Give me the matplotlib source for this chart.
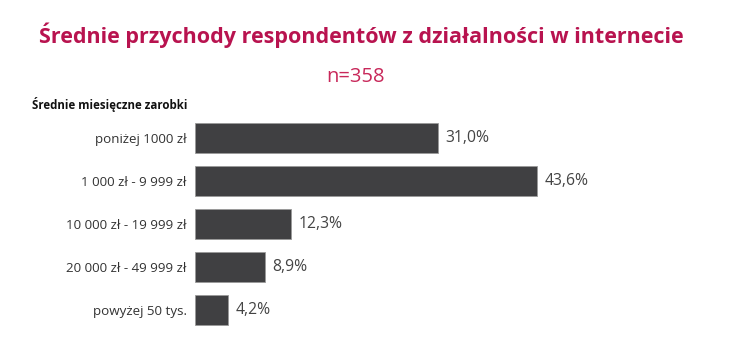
import matplotlib
matplotlib.use("Agg")
import matplotlib.pyplot as plt

categories = ["poniżej 1000 zł", "1 000 zł - 9 999 zł", "10 000 zł - 19 999 zł",
              "20 000 zł - 49 999 zł", "powyżej 50 tys."]
values = [31.0, 43.6, 12.3, 8.9, 4.2]
value_labels = ["31,0%", "43,6%", "12,3%", "8,9%", "4,2%"]

title = "Średnie przychody respondentów z działalności w internecie"
subtitle = "n=358"
axis_title = "Średnie miesięczne zarobki"

FONT = "Open Sans"
W, H = 735, 343
fig = plt.figure(figsize=(W / 100, H / 100), dpi=100)
fig.patch.set_facecolor("white")

left_px, right_px = 195, 665
top_px, bot_px = 112.2, 335.8
ax = fig.add_axes([left_px / W, 1 - bot_px / H, (right_px - left_px) / W, (bot_px - top_px) / H])

ypos = list(range(len(categories)))
ax.barh(ypos, values, height=0.7, color="#404042", edgecolor="#9a9a9a", linewidth=0.6)
ax.set_xlim(0, 60)
ax.set_ylim(4.6, -0.6)
ax.set_yticks(ypos)
ax.set_yticklabels(categories, fontsize=9.6, color="#333333", family=FONT)
ax.tick_params(axis="y", length=0, pad=6)
ax.set_xticks([])
for s in ax.spines.values():
    s.set_visible(False)

for y, v, lab in zip(ypos, values, value_labels):
    ax.annotate(lab, xy=(v, y), xytext=(5.5, 0), textcoords="offset points",
                va="center", ha="left", fontsize=11.3, color="#444444", family=FONT)

fig.text(361 / W, 1 - 35 / H, title, ha="center", va="center", fontsize=15.5,
         fontweight="bold", color="#B8134F", family=FONT)
fig.text(356 / W, 1 - 77 / H, subtitle, ha="center", va="center", fontsize=14.5,
         color="#C8285A", family=FONT)
fig.text(32 / W, 1 - 105 / H, axis_title, ha="left", va="center", fontsize=8.3,
         fontweight="bold", color="#111111", family=FONT)

fig.savefig("out.png", dpi=100, facecolor="white")
